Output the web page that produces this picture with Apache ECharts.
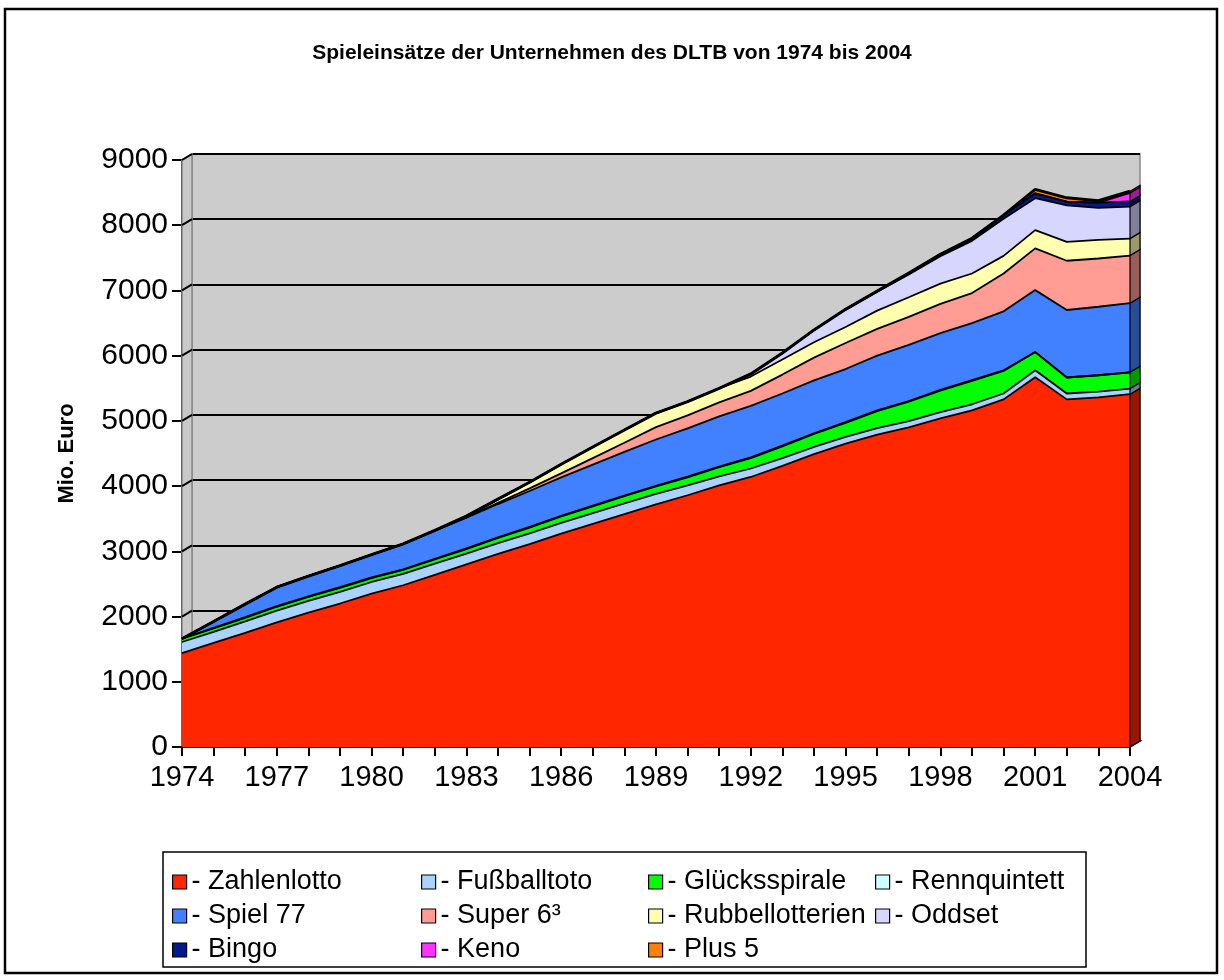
<!DOCTYPE html>
<html>
<head>
<meta charset="utf-8">
<title>Spieleinsätze der Unternehmen des DLTB</title>
<script src="https://cdn.jsdelivr.net/npm/echarts@6/dist/echarts.min.js"></script>
<style>
html,body{margin:0;padding:0;background:#fff;}
#main{width:1224px;height:980px;}
</style>
</head>
<body>
<div id="main"></div>
<script>
	// Daten (Mio. Euro), 1974 - 2004
	var years = ['1974','1975','1976','1977','1978','1979','1980','1981','1982','1983','1984','1985','1986','1987','1988','1989','1990','1991','1992','1993','1994','1995','1996','1997','1998','1999','2000','2001','2002','2003','2004'];
	var zahlenlotto    = [1440,1595,1750,1910,2060,2200,2350,2480,2640,2800,2960,3110,3270,3420,3570,3720,3860,4010,4140,4310,4490,4650,4790,4900,5040,5160,5330,5670,5330,5360,5410];
	var fussballtoto   = [170,170,175,180,180,180,180,175,170,165,165,165,165,165,165,160,150,140,130,120,110,105,100,95,95,95,90,105,90,90,85];
	var gluecksspirale = [50,55,55,60,60,60,60,60,65,70,80,90,100,105,110,115,125,140,160,180,200,215,260,300,330,360,345,280,245,250,250];
	var rennquintett   = [0,5,10,10,10,10,10,10,10,10,10,10,10,10,10,10,10,10,10,10,10,10,10,10,10,10,10,0,0,0,0];
	var spiel77        = [0,100,200,290,310,330,350,390,430,470,510,550,590,630,670,710,740,770,790,800,810,815,840,860,870,875,905,950,1035,1050,1060];
	var super6         = [0,0,0,0,0,0,0,0,0,5,20,40,60,100,140,190,200,215,230,290,350,400,410,430,450,460,580,640,755,740,730];
	var rubbellos      = [0,0,0,0,0,0,0,0,5,20,55,95,140,170,195,215,210,215,220,230,235,245,280,300,310,300,270,280,290,285,260];
	var oddset         = [0,0,0,0,0,0,0,0,0,0,0,0,0,0,0,0,0,0,40,100,190,270,290,350,420,500,570,490,560,490,490];
	var bingo          = [0,0,0,0,0,0,0,0,0,0,0,0,0,0,0,0,0,0,0,0,0,0,10,20,30,40,55,75,55,80,80];
	var keno           = [0,0,0,0,0,0,0,0,0,0,0,0,0,0,0,0,0,0,0,0,0,0,0,0,0,0,0,0,0,0,130];
	var plus5          = [0,0,0,0,0,0,0,0,0,0,0,0,0,0,0,0,0,0,0,0,0,0,0,0,0,0,0,60,60,30,25];

	var namen  = ['Zahlenlotto','Fußballtoto','Glücksspirale','Rennquintett','Spiel 77','Super 6³','Rubbellotterien','Oddset','Bingo','Keno','Plus 5'];
	var farben = ['#FF2600','#A8D4FF','#00FF00','#CCFFFF','#4180FF','#FF9C94','#FFFFB0','#D6D6FF','#001A8C','#FF33FF','#FF8000'];
	var werte  = [zahlenlotto,fussballtoto,gluecksspirale,rennquintett,spiel77,super6,rubbellos,oddset,bingo,keno,plus5];

	var FONT = 'Liberation Sans, Arial, sans-serif';
	var dx = 10, dy = -6; // Tiefe der 3D-Darstellung

	function dunkel(hex){
		var r = parseInt(hex.substr(1,2),16), g = parseInt(hex.substr(3,2),16), b = parseInt(hex.substr(5,2),16);
		return 'rgb(' + Math.round(r*0.6) + ',' + Math.round(g*0.6) + ',' + Math.round(b*0.6) + ')';
	}

	var myChart = echarts.init(document.getElementById('main'));

	var series = [];
	namen.forEach(function(n, i){
		series.push({
			name: n, type: 'line', stack: 'flaeche', data: werte[i], symbol: 'none',
			color: farben[i], itemStyle: {color: farben[i], borderColor: '#000', borderWidth: 1.2},
			lineStyle: {width: 0},
			areaStyle: {color: farben[i], opacity: 1},
			z: 2, silent: true
		});
	});
	// schwarze Kanten oberhalb der Flaechen
	namen.forEach(function(n, i){
		series.push({
			name: '_' + n, type: 'line', stack: 'kante', data: werte[i], symbol: 'none',
			lineStyle: {color: '#000', width: i == namen.length - 1 ? 3 : 1.8},
			z: 3, silent: true
		});
	});

	var spalten = [[0,4,8],[1,5,9],[2,6,10],[3,7]];
	var spaltenLinks = [167, 416, 643, 870];
	var legenden = spalten.map(function(sp, k){
		return {
			data: sp.map(function(i){
				return {name: namen[i], icon: 'rect',
					itemStyle: {color: farben[i], borderColor: '#000', borderWidth: 1.2}};
			}),
			left: spaltenLinks[k], top: 860, orient: 'vertical',
			itemGap: 0, itemWidth: 14, itemHeight: 14, icon: 'rect',
			itemStyle: {borderColor: '#000', borderWidth: 1.2},
			formatter: '- {name}', selectedMode: false,
			textStyle: {fontFamily: FONT, fontSize: 27, color: '#000', lineHeight: 34}
		};
	});

	var option = {
		animation: false,
		title: {
			text: 'Spieleinsätze der Unternehmen des DLTB von 1974 bis 2004',
			left: 'center', top: 38,
			textStyle: {fontFamily: FONT, fontSize: 21, fontWeight: 'bold', color: '#000'}
		},
		legend: legenden,
		grid: [
			{left: 182, top: 160, width: 948, height: 587, show: false},
			{left: 182 + dx, top: 160 + dy, width: 948, height: 587, show: true,
			 backgroundColor: '#CCCCCC', borderColor: '#888', borderWidth: 1.5}
		],
		xAxis: [
			{gridIndex: 0, type: 'category', data: years, boundaryGap: false,
			 axisLine: {lineStyle: {color: '#000', width: 2}},
			 axisTick: {interval: 0, length: 9, lineStyle: {color: '#000', width: 2}},
			 axisLabel: {interval: 2, fontFamily: FONT, fontSize: 29, color: '#000', margin: 16}},
			{gridIndex: 1, type: 'category', data: years, boundaryGap: false, show: false}
		],
		yAxis: [
			{gridIndex: 0, type: 'value', min: 0, max: 9000, interval: 1000,
			 name: 'Mio. Euro', nameLocation: 'middle', nameRotate: 90, nameGap: 104,
			 nameTextStyle: {fontFamily: FONT, fontSize: 22, fontWeight: 'bold', color: '#000'},
			 axisLine: {show: true, lineStyle: {color: '#000', width: 2}},
			 axisTick: {show: true, length: 10, lineStyle: {color: '#000', width: 2}},
			 axisLabel: {fontFamily: FONT, fontSize: 30, color: '#000', margin: 14,
				formatter: function(v){ return String(v); }},
			 splitLine: {show: false}},
			{gridIndex: 1, type: 'value', min: 0, max: 9000, interval: 1000,
			 axisLine: {show: false}, axisTick: {show: false}, axisLabel: {show: false},
			 splitLine: {lineStyle: {color: '#000', width: 2}}}
		],
		series: series
	};
	myChart.setOption(option);

	// 3D-Waende, Seitenflaechen und Rahmen
	function px(i, v){ return myChart.convertToPixel({gridIndex: 0}, [i, v]); }
	var letzter = years.length - 1;
	var grafik = [];
	grafik.push({type: 'rect', silent: true, z: 0, shape: {x: 5, y: 9, width: 1212, height: 964},
		style: {fill: 'none', stroke: '#000', lineWidth: 2.5}});
	grafik.push({type: 'rect', silent: true, z: 0, shape: {x: 163, y: 852, width: 923, height: 115},
		style: {fill: 'none', stroke: '#000', lineWidth: 1.5}});

	var a0 = px(0, 0), a9 = px(0, 9000), e0 = px(letzter, 0);
	grafik.push({type: 'polygon', silent: true, z: 1,
		shape: {points: [a0, a9, [a9[0] + dx, a9[1] + dy], [a0[0] + dx, a0[1] + dy]]},
		style: {fill: '#C8C8C8', stroke: '#888', lineWidth: 1.5}});
	grafik.push({type: 'polygon', silent: true, z: 1,
		shape: {points: [a0, e0, [e0[0] + dx, e0[1] + dy], [a0[0] + dx, a0[1] + dy]]},
		style: {fill: '#B4B4B4', stroke: '#000', lineWidth: 1.5}});
	for (var v = 0; v <= 9000; v += 1000) {
		var p = px(0, v);
		grafik.push({type: 'line', silent: true, z: 1,
			shape: {x1: p[0], y1: p[1], x2: p[0] + dx, y2: p[1] + dy},
			style: {stroke: '#000', lineWidth: 2}});
	}
	var kum = 0;
	werte.forEach(function(arr, i){
		var w = arr[letzter];
		if (w > 0) {
			var u = px(letzter, kum), o = px(letzter, kum + w);
			grafik.push({type: 'polygon', silent: true, z: 4,
				shape: {points: [u, o, [o[0] + dx, o[1] + dy], [u[0] + dx, u[1] + dy]]},
				style: {fill: dunkel(farben[i]), stroke: '#000', lineWidth: 1.2}});
		}
		kum += w;
	});
	myChart.setOption({graphic: grafik});

	window.addEventListener('resize', function () {
		myChart.resize();
	});
</script>
</body>
</html>
